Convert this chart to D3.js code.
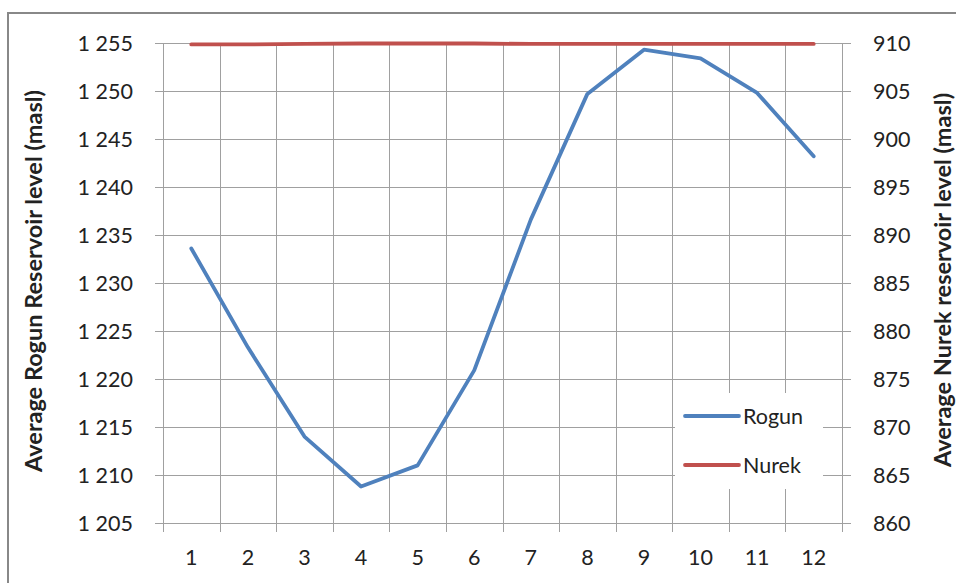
<!DOCTYPE html>
<html><head><meta charset="utf-8">
<script src="https://cdn.jsdelivr.net/npm/d3@7"></script>
<style>body{margin:0;background:#fff}svg{display:block}text{font-family:Lato,"Open Sans",sans-serif;fill:#222}</style>
</head><body>
<svg id="c" width="956" height="583"></svg>
<script>
const months = [1,2,3,4,5,6,7,8,9,10,11,12];
const rogun = [1233.6,1223.3,1214.0,1208.8,1211.0,1220.9,1236.6,1249.7,1254.3,1253.4,1249.8,1243.2];
const nurek = [909.85,909.85,909.9,909.95,909.95,909.95,909.9,909.9,909.9,909.9,909.9,909.9];
const leftTicks = [1205,1210,1215,1220,1225,1230,1235,1240,1245,1250,1255];
const rightTicks = [860,865,870,875,880,885,890,895,900,905,910];
const seriesNames = ["Rogun","Nurek"];
const colors = ["#4F81BD","#C0504D"];

const svg = d3.select("#c");
const L=163, R=842, T=43, B=523;
const FS = 21.5;
svg.append("rect").attr("x",8).attr("y",13).attr("width",990).attr("height",600)
  .attr("fill","#fff").attr("stroke","#888").attr("stroke-width",2);

const x = d3.scaleBand().domain(months).range([L,R]).paddingInner(0).paddingOuter(0);
const yL = d3.scaleLinear().domain([1205,1255]).range([B,T]);
const yR = d3.scaleLinear().domain([860,910]).range([B,T]);

const grid = svg.append("g").attr("stroke","#a0a0a0").attr("stroke-width",1.2).attr("shape-rendering","crispEdges");
leftTicks.forEach(t=>{
  grid.append("line").attr("x1",L-8).attr("x2",R+9).attr("y1",Math.round(yL(t))+0.5).attr("y2",Math.round(yL(t))+0.5);
});
const edges = months.map(m=>x(m)).concat([R]);
edges.forEach(e=>{
  grid.append("line").attr("x1",Math.round(e)+0.5).attr("x2",Math.round(e)+0.5).attr("y1",T).attr("y2",B+9);
});

svg.append("g").selectAll("text").data(leftTicks).join("text")
  .attr("x",133).attr("y",d=>yL(d)).attr("dy","0.35em").attr("text-anchor","end")
  .attr("font-size",FS).text(d=>{const s=String(d);return s[0]+" "+s.slice(1);});
svg.append("g").selectAll("text").data(rightTicks).join("text")
  .attr("x",873).attr("y",d=>yR(d)).attr("dy","0.35em").attr("text-anchor","start")
  .attr("font-size",FS).text(d=>d);
svg.append("g").selectAll("text").data(months).join("text")
  .attr("x",d=>x(d)+x.bandwidth()/2).attr("y",557).attr("dy","0.35em").attr("text-anchor","middle")
  .attr("font-size",FS).text(d=>d);

svg.append("text").attr("transform","translate(42,281) rotate(-90)").attr("text-anchor","middle")
  .attr("font-size",23.5).attr("font-weight","bold").text("Average Rogun Reservoir level (masl)");
svg.append("text").attr("transform","translate(951,280) rotate(-90)").attr("text-anchor","middle")
  .attr("font-size",23.5).attr("font-weight","bold").text("Average Nurek reservoir level (masl)");

const cx = d=>x(d)+x.bandwidth()/2;
svg.append("path").datum(nurek).attr("fill","none").attr("stroke",colors[1]).attr("stroke-width",3.8)
  .attr("stroke-linejoin","round").attr("stroke-linecap","round")
  .attr("d",d3.line().x((d,i)=>cx(months[i])).y(d=>yR(d)));
svg.append("path").datum(rogun).attr("fill","none").attr("stroke",colors[0]).attr("stroke-width",3.8)
  .attr("stroke-linejoin","round").attr("stroke-linecap","round")
  .attr("d",d3.line().x((d,i)=>cx(months[i])).y(d=>yL(d)));

const lg = svg.append("g");
lg.append("rect").attr("x",675).attr("y",393).attr("width",148).attr("height",96).attr("fill","#fff");
seriesNames.forEach((n,i)=>{
  const yy = 416 + i*49;
  lg.append("line").attr("x1",685).attr("x2",739).attr("y1",yy).attr("y2",yy)
    .attr("stroke",colors[i]).attr("stroke-width",3.8).attr("stroke-linecap","round");
  lg.append("text").attr("x",743).attr("y",yy).attr("dy","0.35em").attr("font-size",FS).text(n);
});
</script>
</body></html>
